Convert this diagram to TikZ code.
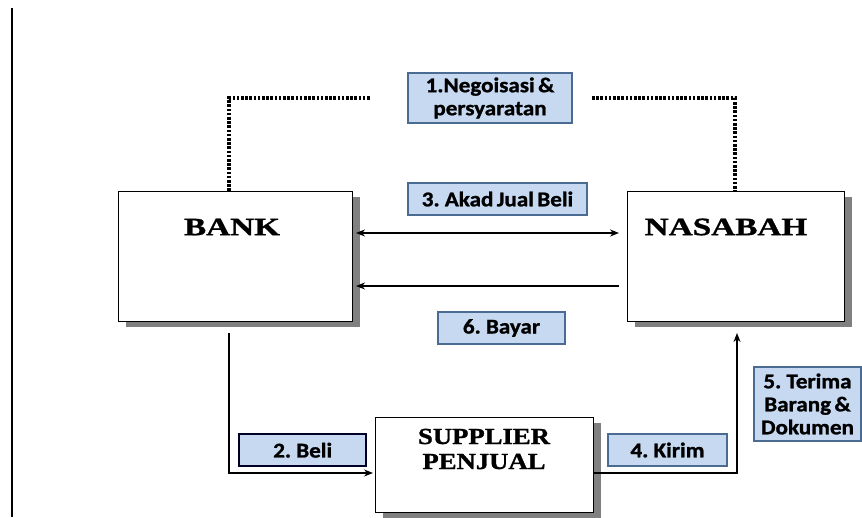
\documentclass[tikz,border=0pt]{standalone}
\usepackage{fontspec}
\newfontfamily\lblfont[FakeStretch=1.1,FakeBold=1.2,WordSpace=0.65]{Carlito}
\newfontfamily\bigfont[FakeStretch=1.33,FakeBold=1.2]{Liberation Serif}
\newfontfamily\supfont[FakeStretch=1.16,FakeBold=1.2]{Liberation Serif}
\usetikzlibrary{arrows.meta}
\definecolor{lblfill}{HTML}{C6D9F1}
\definecolor{lbledge}{HTML}{4A6C93}
\definecolor{shadowgray}{HTML}{808080}
\begin{document}
\begin{tikzpicture}[x=1pt,y=-1pt]
\tikzset{
  entity/.style={draw=black, line width=1pt, fill=white, inner sep=0pt, anchor=north west},
  lbl/.style={draw=lbledge, line width=2pt, fill=lblfill, inner sep=0pt, anchor=north west,
    font=\lblfont\bfseries\fontsize{21}{23}\selectfont, align=center},
  flow/.style={line width=2.6pt, -{Stealth[length=9pt,width=7pt]}},
  biflow/.style={line width=2.6pt, {Stealth[length=9pt,width=7pt]}-{Stealth[length=9pt,width=7pt]}},
  dots/.style={line width=3.2pt, dash pattern=on 2.6pt off 1.6pt},
  bigtxt/.style={font=\bigfont\bfseries\fontsize{25}{28}\selectfont},
  suptxt/.style={font=\supfont\bfseries\fontsize{23}{26}\selectfont, align=center}
}
\useasboundingbox (0,0) rectangle (862,518);
\fill[white] (0,0) rectangle (862,518);
% left border line
\coordinate (lt) at (12,8);
\coordinate (lb) at (12,517);
\draw[line width=2.2pt] (lt) -- (lb);

% shadows
\fill[shadowgray] (126,197) rectangle (360,327);
\fill[shadowgray] (635,197) rectangle (852,327);
\fill[shadowgray] (383,423) rectangle (601,518);

% entity boxes
\node[entity, minimum width=234pt, minimum height=130pt] (bank) at (118,191) {};
\node[bigtxt] (banktxt) at (232,227) {BANK};
\node[entity, minimum width=217pt, minimum height=130pt] (nas) at (627,191) {};
\node[bigtxt] (nastxt) at (726,227) {NASABAH};
\node[entity, minimum width=218pt, minimum height=95pt] (sup) at (375,417) {};
\node[suptxt] (suptxt) at (484,449) {SUPPLIER\\[-1pt]PENJUAL};

% labels
\node[lbl, minimum width=164pt, minimum height=50pt] (l1) at (407,72) {1.Negoisasi \&\\persyaratan};
\node[lbl, minimum width=179pt, minimum height=32pt] (l3) at (407,182) {3. Akad Jual Beli};
\node[lbl, minimum width=127pt, minimum height=32pt] (l6) at (437,311) {6. Bayar};
\node[lbl, draw=black!85!blue, line width=2.4pt, minimum width=127pt, minimum height=32pt] (l2) at (238,433) {2. Beli};
\node[lbl, minimum width=119pt, minimum height=32pt] (l4) at (607,433) {4. Kirim};
\node[lbl, minimum width=107pt, minimum height=74pt] (l5) at (753,366) {5. Terima\\Barang \&\\Dokumen};

% dotted negotiation lines
\coordinate (d1) at (370,98);
\coordinate (d2) at (592,98);
\draw[dots] (bank.north west -| 229,0) -- (229,98) -- (d1);
\draw[dots] (d2) -- (735,98) -- (nas.north west -| 735,0);

% arrows between bank and nasabah
\coordinate (a1l) at (356,233);
\coordinate (a1r) at (619,233);
\coordinate (a2l) at (356,286);
\coordinate (a2r) at (619,286);
\draw[biflow] (a1l) -- (a1r);
\draw[flow] (a2r) -- (a2l);

% bank -> supplier
\coordinate (bdown) at (229,333);
\coordinate (sin) at (373,473);
\draw[flow] (bdown) |- (sin);

% supplier -> nasabah
\coordinate (sout) at (593,473);
\coordinate (nin) at (737,333);
\draw[flow] (sout) -| (nin);
\end{tikzpicture}
\end{document}
